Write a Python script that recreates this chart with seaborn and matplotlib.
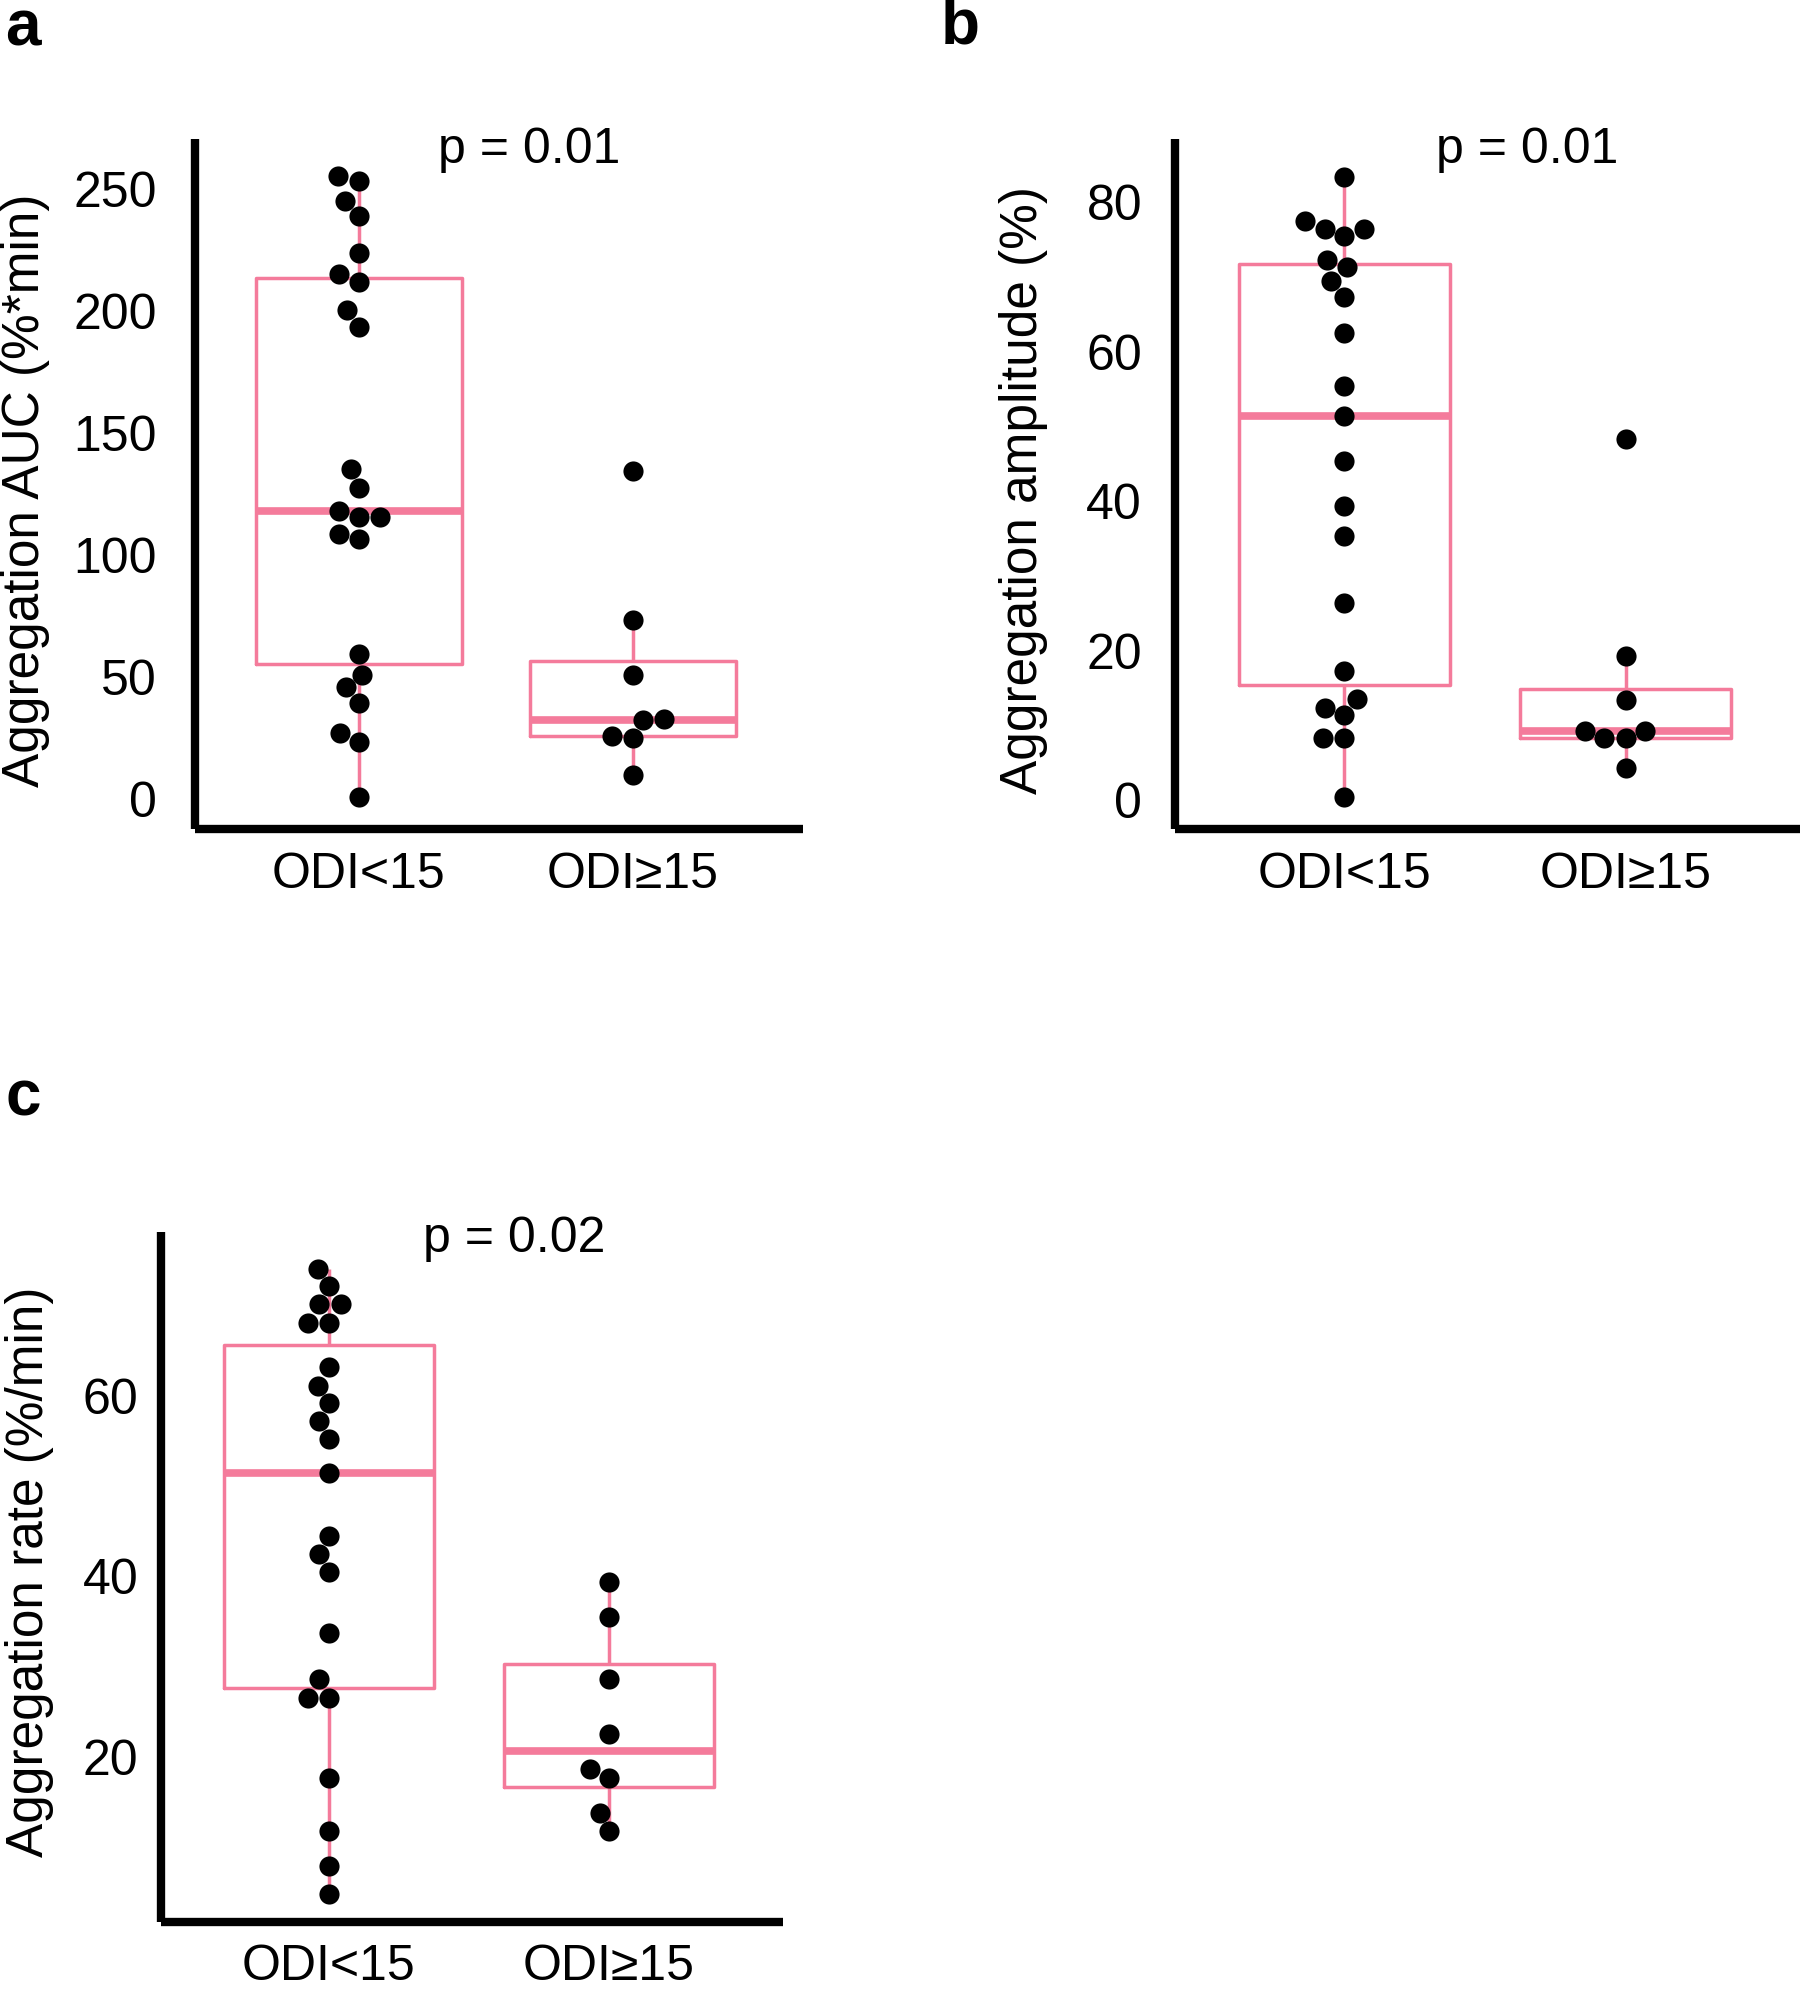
import numpy as np
import pandas as pd
import matplotlib
matplotlib.use("Agg")
import matplotlib.pyplot as plt
import seaborn as sns

# ---------------- data ----------------
groups = ["ODI<15", "ODI\u226515"]

auc_low = [255.5, 253.5, 245.3, 239.2, 223.9, 215.3, 212.2, 200.4, 193.5,
           135.3, 127.6, 118.2, 115.7, 115.7, 108.8, 106.5, 59.6, 51.0,
           45.9, 39.4, 26.9, 23.5, 0.6]
auc_high = [134.5, 73.3, 51.0, 32.7, 32.2, 25.9, 24.9, 9.8]

amp_low = [83.4, 77.5, 76.5, 76.5, 75.5, 72.3, 71.3, 69.5, 67.4, 62.5, 55.4,
           51.4, 45.4, 39.4, 35.4, 26.4, 17.3, 13.5, 12.4, 11.4, 8.4, 8.4, 0.4]
amp_high = [48.4, 19.3, 13.4, 9.3, 9.3, 8.3, 8.3, 4.3]

rate_low = [74.0, 72.1, 70.1, 70.1, 68.1, 68.1, 63.2, 61.1, 59.2, 57.2, 55.2,
            51.4, 44.5, 42.5, 40.5, 33.7, 28.6, 26.6, 26.6, 17.7, 11.8, 7.9, 4.9]
rate_high = [39.4, 35.5, 28.6, 22.6, 18.7, 17.7, 13.8, 11.8]

ylabels = ["Aggregation AUC (%*min)", "Aggregation amplitude (%)",
           "Aggregation rate (%/min)"]
p_texts = ["p = 0.01", "p = 0.01", "p = 0.02"]
letters = ["a", "b", "c"]
yticks_a = [0, 50, 100, 150, 200, 250]
yticks_b = [0, 20, 40, 60, 80]
yticks_c = [20, 40, 60]

# ---------------- style ----------------
sns.set_style("white")
plt.rcParams["font.family"] = ["Liberation Sans", "DejaVu Sans"]
plt.rcParams["text.color"] = "black"
plt.rcParams["axes.labelcolor"] = "black"
plt.rcParams["xtick.color"] = "black"
plt.rcParams["ytick.color"] = "black"

PINK = "#F47B9B"
FS = 36

fig = plt.figure(figsize=(18.03, 20), dpi=100)

panels = [
    dict(low=auc_low, high=auc_high, rect=[0.1079, 0.5856, 0.3373, 0.345],
         ylim=(-12.3, 270.8), yticks=yticks_a, ypad=27, xpad=17,
         labelx=-0.238, labely=0.49, ptxt=(0.62, 266.2)),
    dict(low=amp_low, high=amp_high, rect=[0.6519, 0.5856, 0.3465, 0.345],
         ylim=(-3.8, 88.5), yticks=yticks_b, ypad=24, xpad=17,
         labelx=-0.204, labely=0.491, ptxt=(0.65, 87.0)),
    dict(low=rate_low, high=rate_high, rect=[0.0891, 0.0392, 0.3451, 0.3447],
         ylim=(1.8, 78.1), yticks=yticks_c, ypad=16, xpad=16,
         labelx=-0.172, labely=0.508, ptxt=(0.66, 77.3)),
]

for i, p in enumerate(panels):
    ax = fig.add_axes(p["rect"])
    df = pd.DataFrame({
        "group": [groups[0]] * len(p["low"]) + [groups[1]] * len(p["high"]),
        "value": list(p["low"]) + list(p["high"]),
    })
    ax.set_xlim(-0.6, 1.62)
    ax.set_ylim(*p["ylim"])
    sns.boxplot(data=df, x="group", y="value", order=groups, ax=ax,
                fill=False, color=PINK, linecolor=PINK, width=0.75,
                linewidth=2.5, showcaps=False, showfliers=False, whis=1.5,
                medianprops=dict(linewidth=5.5, color=PINK))
    ax.set_xlim(-0.6, 1.62)
    ax.set_ylim(*p["ylim"])
    sns.swarmplot(data=df, x="group", y="value", order=groups, ax=ax,
                  color="black", size=14.5, zorder=4)
    ax.set_xlim(-0.6, 1.62)
    ax.set_ylim(*p["ylim"])
    ax.set_yticks(p["yticks"])
    ax.set_xlabel("")
    ax.set_ylabel(ylabels[i], fontsize=FS + 1)
    ax.yaxis.set_label_coords(p["labelx"], p["labely"])

    for side in ["top", "right"]:
        ax.spines[side].set_visible(False)
    for side in ["left", "bottom"]:
        ax.spines[side].set_color("black")
        ax.spines[side].set_linewidth(6)
        ax.spines[side].set_capstyle("butt")
    ax.tick_params(axis="y", length=0, labelsize=FS, pad=p["ypad"])
    ax.tick_params(axis="x", length=0, labelsize=FS, pad=p["xpad"])
    ax.grid(False)

    ax.text(p["ptxt"][0], p["ptxt"][1], p_texts[i], fontsize=FS,
            ha="center", va="center", clip_on=False)

fig.text(5 / 1803, 1 - 46 / 2000, letters[0], fontsize=46, fontweight="bold",
         ha="left", va="baseline")
fig.text(941 / 1803, 1 - 44 / 2000, letters[1], fontsize=46, fontweight="bold",
         ha="left", va="baseline")
fig.text(6 / 1803, 1 - 1116 / 2000, letters[2], fontsize=46, fontweight="bold",
         ha="left", va="baseline")

fig.savefig("out.png", dpi=100, facecolor="white")
